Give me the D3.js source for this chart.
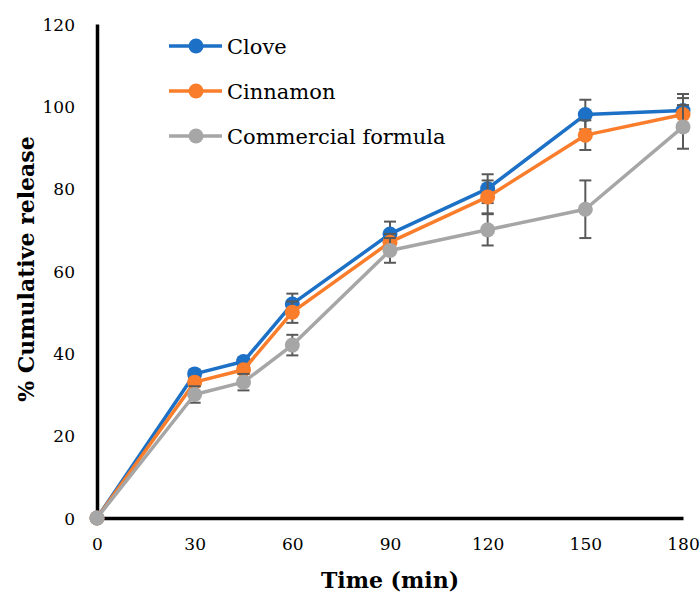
<!DOCTYPE html>
<meta charset="utf-8">
<html>
<head>
<style>
  body { margin: 0; background: #fff; }
  svg text { font-family: "DejaVu Serif", serif; fill: #000; }
</style>
</head>
<body>
<svg width="700" height="597" id="chart"></svg>
<script src="https://d3js.org/d3.v7.min.js"></script>
<script>
// data
var times = [0, 30, 45, 60, 90, 120, 150, 180];
var xTicks = [0, 30, 60, 90, 120, 150, 180];
var yTicks = [0, 20, 40, 60, 80, 100, 120];
var seriesNames = ["Clove", "Cinnamon", "Commercial formula"];
var seriesColors = ["#1c70c5", "#f97d2b", "#a6a6a6"];
var cloveVals = [0, 35, 38, 52, 69, 80, 98, 99];
var cloveErr = [0, 1, 1, 2.5, 3, 3.5, 3.6, 4];
var cinnamonVals = [0, 33, 36, 50, 67, 78, 93, 98];
var cinnamonErr = [0, 1, 1, 2.6, 2, 4, 3.6, 4];
var commercialVals = [0, 30, 33, 42, 65, 70, 75, 95];
var commercialErr = [0, 2, 2, 2.5, 3, 3.8, 7, 5.3];

var allVals = [cloveVals, cinnamonVals, commercialVals];
var allErr = [cloveErr, cinnamonErr, commercialErr];

var svg = d3.select("#chart");
var x = d3.scaleLinear().domain([0, 180]).range([97, 683]);
var y = d3.scaleLinear().domain([0, 120]).range([518, 24]);

/* axes */
var yAxis = svg.append("g")
    .attr("transform", "translate(97,0)")
    .call(d3.axisLeft(y).tickValues(yTicks).tickSize(0).tickPadding(22).tickFormat(d3.format("d")));
var xAxis = svg.append("g")
    .attr("transform", "translate(0,518)")
    .call(d3.axisBottom(x).tickValues(xTicks).tickSize(0).tickPadding(20).tickFormat(d3.format("d")));
[xAxis, yAxis].forEach(function (a) {
    a.select(".domain").attr("stroke", "#000").attr("stroke-width", 3.5);
    a.selectAll("text").style("font-family", "DejaVu Serif").style("font-size", "17px").attr("fill", "#111");
});
yAxis.selectAll("text").attr("dy", "0.36em");

/* series */
seriesNames.forEach(function (name, i) {
    var pts = times.map(function (t, j) { return { t: t, v: allVals[i][j], e: allErr[i][j] }; });
    var g = svg.append("g");

    // error bars
    var eb = g.selectAll(".err").data(pts.filter(function (d) { return d.e > 0; })).enter().append("g");
    eb.append("line")
        .attr("x1", function (d) { return x(d.t); }).attr("x2", function (d) { return x(d.t); })
        .attr("y1", function (d) { return y(d.v - d.e); }).attr("y2", function (d) { return y(d.v + d.e); });
    eb.append("line")
        .attr("x1", function (d) { return x(d.t) - 6; }).attr("x2", function (d) { return x(d.t) + 6; })
        .attr("y1", function (d) { return y(d.v + d.e); }).attr("y2", function (d) { return y(d.v + d.e); });
    eb.append("line")
        .attr("x1", function (d) { return x(d.t) - 6; }).attr("x2", function (d) { return x(d.t) + 6; })
        .attr("y1", function (d) { return y(d.v - d.e); }).attr("y2", function (d) { return y(d.v - d.e); });
    eb.selectAll("line").attr("stroke", "#595959").attr("stroke-width", 2);

    var line = d3.line().x(function (d) { return x(d.t); }).y(function (d) { return y(d.v); });
    g.append("path").datum(pts)
        .attr("d", line)
        .attr("fill", "none")
        .attr("stroke", seriesColors[i])
        .attr("stroke-width", 3.5)
        .attr("stroke-linejoin", "round");

    g.selectAll("circle").data(pts).enter().append("circle")
        .attr("cx", function (d) { return x(d.t); })
        .attr("cy", function (d) { return y(d.v); })
        .attr("r", 7.5)
        .attr("fill", seriesColors[i]);

    // legend entry
    var ly = 46 + i * 45;
    var lg = svg.append("g");
    lg.append("line").attr("x1", 169).attr("x2", 222).attr("y1", ly).attr("y2", ly)
        .attr("stroke", seriesColors[i]).attr("stroke-width", 3.5);
    lg.append("circle").attr("cx", 196).attr("cy", ly).attr("r", 7.5).attr("fill", seriesColors[i]);
    lg.append("text").attr("x", 227).attr("y", ly).attr("dy", "0.36em")
        .style("font-size", "21px").text(name);
});

/* axis titles */
svg.append("text")
    .attr("x", 390).attr("y", 588)
    .attr("text-anchor", "middle")
    .style("font-size", "22px").style("font-weight", "bold")
    .text("Time (min)");
svg.append("text")
    .attr("transform", "translate(34,269) rotate(-90)")
    .attr("text-anchor", "middle")
    .style("font-size", "22px").style("font-weight", "bold")
    .text("% Cumulative release");
</script>
</body>
</html>
